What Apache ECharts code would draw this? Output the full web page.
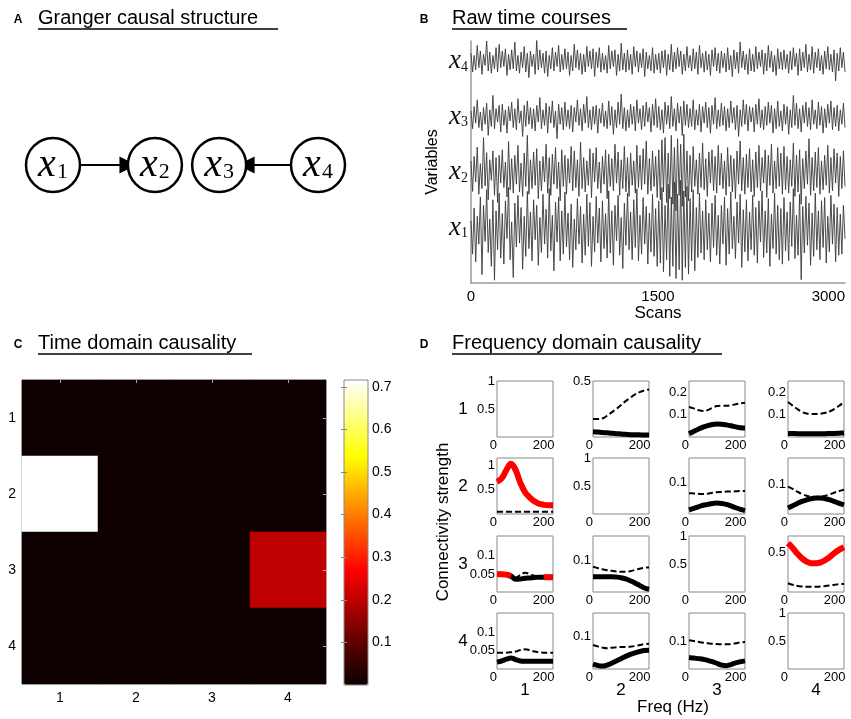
<!DOCTYPE html>
<html><head><meta charset="utf-8">
<script src="https://cdn.jsdelivr.net/npm/echarts@6/dist/echarts.min.js"></script>
<style>html,body{margin:0;padding:0;background:#fff}#c{width:851px;height:719px}</style>
</head><body><div id="c"></div>
<script>
// ---------------- DATA ----------------
// Panel A: causal graph
const graphNodes = ['1','2','3','4'];
const graphEdges = [[0,1],[3,2]];
// Panel B: raw time courses (deviations, one row = 20 samples)
const scanMax = 3000;
const scanTicks = [0,1500,3000];
const rawX1 = [12,-48,35,-62,20,-30,55,-85,40,-25,68,-45,15,-70,50,-95,30,-40,62,-55,
25,-66,48,-20,72,-58,10,-90,44,-35,58,-28,36,-75,20,-52,65,-38,28,-60,
50,-22,40,-68,18,-45,60,-30,33,-55,70,-42,22,-78,46,-26,55,-60,30,-48,
64,-35,26,-58,42,-72,15,-40,52,-30,38,-64,24,-50,60,-34,45,-70,20,-44,
56,-28,35,-62,48,-38,25,-55,66,-46,30,-68,40,-24,58,-50,18,-74,44,-32,
62,-40,28,-58,50,-36,70,-60,22,-48,54,-30,38,-66,26,-44,60,-52,34,-70,
48,-64,72,-80,40,-58,78,-88,55,-70,82,-92,60,-76,85,-95,66,-72,74,-84,
52,-60,68,-78,36,-54,62,-46,30,-58,50,-40,26,-62,44,-36,58,-50,22,-66,
40,-30,55,-68,34,-48,64,-38,20,-56,46,-28,60,-72,32,-44,50,-60,28,-40,
58,-50,36,-64,48,-26,66,-54,30,-46,52,-70,24,-38,62,-48,40,-58,34,-66,
54,-42,28,-60,46,-34,70,-56,22,-50,60,-94,38,-46,56,-32,44,-68,26,-52,
62,-40,30,-58,48,-36,54,-64,20,-44,58,-30,42,-62,36,-50,24,-48,40,-20];
const rawX2 = [20,-35,28,-18,45,-40,15,-30,62,-25,35,-50,22,-15,38,-42,26,-55,30,-20,
40,-28,18,-45,55,-32,24,-38,30,-22,48,-36,16,-44,34,-26,66,-40,22,-30,
36,-24,42,-48,20,-34,28,-18,50,-38,26,-42,32,-22,44,-30,18,-52,40,-26,
30,-40,24,-20,46,-34,38,-28,22,-44,54,-30,26,-36,20,-24,42,-46,34,-18,
44,-30,18,-38,28,-22,40,-48,32,-26,24,-34,50,-20,36,-42,22,-30,46,-36,
26,-44,34,-24,20,-38,48,-28,30,-32,42,-22,56,-40,24,-34,38,-26,28,-46,
40,-50,58,-36,62,-55,34,-48,66,-58,44,-70,60,-42,50,-62,68,-45,38,-52,
30,-36,46,-26,22,-40,34,-28,52,-32,24,-44,36,-20,40,-34,28,-38,48,-24,
34,-30,20,-42,44,-26,30,-36,24,-48,38,-22,56,-34,26,-40,32,-28,42,-36,
22,-44,36,-28,48,-34,26,-20,40,-46,30,-24,50,-38,20,-30,44,-26,34,-40,
46,-32,28,-38,22,-26,52,-44,30,-36,40,-58,24,-30,38,-22,60,-42,26,-34,
36,-28,44,-40,20,-32,30,-24,48,-38,26,-34,42,-20,34,-44,28,-30,38,-26];
const rawX3 = [10,-22,18,-12,30,-20,8,-26,16,-14,24,-34,12,-18,38,-22,14,-10,20,-28,
22,-16,12,-30,18,-8,26,-20,14,-24,32,-12,10,-36,20,-18,28,-14,16,-22,
14,-26,20,-10,34,-22,12,-16,24,-30,18,-12,28,-20,10,-40,22,-14,16,-24,
26,-18,12,-22,20,-28,16,-10,30,-16,14,-26,22,-12,36,-20,12,-24,18,-14,
20,-30,14,-12,24,-18,10,-22,28,-16,18,-32,12,-20,26,-14,40,-22,16,-26,
12,-20,22,-14,18,-26,30,-12,14,-24,20,-18,26,-10,16,-28,22,-16,32,-20,
18,-24,12,-30,26,-14,20,-22,36,-18,14,-26,24,-12,18,-34,28,-16,22,-20,
14,-18,30,-24,12,-16,22,-28,18,-12,26,-20,16,-30,20,-14,34,-22,12,-18,
24,-16,18,-26,14,-20,28,-12,16,-24,20,-36,12,-18,30,-14,22,-26,18,-10,
16,-28,22,-14,32,-20,12,-24,18,-16,26,-12,20,-30,14,-22,28,-18,10,-26,
22,-14,18,-32,12,-20,38,-16,24,-22,14,-28,20,-12,26,-18,16,-24,30,-14,
12,-22,26,-16,18,-30,14,-20,22,-12,28,-24,16,-18,20,-26,12,-14,24,-20];
const rawX4 = [14,-20,10,-16,28,-12,18,-24,12,-8,36,-18,16,-22,10,-14,24,-20,30,-12,
18,-10,22,-26,12,-16,20,-14,34,-18,10,-22,16,-12,26,-20,14,-30,18,-10,
12,-24,38,-16,20,-12,14,-22,18,-28,10,-14,24,-18,16,-10,28,-20,12,-16,
22,-14,16,-26,10,-18,30,-12,20,-16,14,-24,12,-20,26,-10,18,-14,22,-28,
16,-12,24,-20,14,-16,10,-22,28,-14,18,-10,20,-26,12,-18,32,-16,14,-20,
20,-16,12,-24,26,-10,18,-20,14,-12,22,-28,16,-14,10,-18,24,-22,12,-16,
14,-22,18,-12,20,-26,12,-16,30,-20,16,-14,24,-10,18,-24,12,-18,26,-12,
10,-18,22,-14,16,-24,28,-12,14,-20,18,-16,12,-26,20,-10,24,-18,14,-22,
18,-12,14,-20,24,-16,10,-28,20,-14,16,-22,34,-12,18,-16,12,-24,22,-18,
12,-20,26,-14,16,-10,20,-24,14,-18,28,-12,18,-20,10,-26,22,-14,16,-16,
20,-14,12,-22,18,-16,24,-10,14,-26,22,-18,16,-12,30,-20,12,-16,26,-22,
16,-12,22,-18,10,-24,18,-14,26,-16,12,-20,20,-36,14,-18,24,-12,16,-20];
// Panel C: time-domain causality matrix (rows = target, cols = source)
const tdcLabels = ['1','2','3','4'];
const tdcMatrix = [
  [0.004,0.004,0.004,0.004],
  [0.716,0.004,0.004,0.004],
  [0.004,0.004,0.004,0.200],
  [0.004,0.004,0.004,0.004]
];
const cbMin = 0, cbMax = 0.716;
const cbTicks = [0.1,0.2,0.3,0.4,0.5,0.6,0.7];
// Panel D: frequency-domain causality
const freqHz = [0,20,40,60,80,100,120,140,160,180,200,220,240];
const freqTicks = [0,200];
const dash12 = [0.16,0.16,0.165,0.19,0.22,0.25,0.285,0.32,0.35,0.38,0.40,0.415,0.425];
const solid12 = [0.047,0.044,0.04,0.037,0.033,0.03,0.027,0.024,0.021,0.02,0.019,0.018,0.018];
const dash13 = [0.134,0.128,0.12,0.116,0.12,0.13,0.138,0.14,0.14,0.142,0.146,0.15,0.153];
const solid13 = [0.015,0.025,0.035,0.044,0.051,0.056,0.058,0.057,0.054,0.05,0.045,0.041,0.04];
const dash14 = [0.156,0.14,0.125,0.112,0.105,0.103,0.103,0.104,0.108,0.115,0.126,0.14,0.156];
const solid14 = [0.016,0.016,0.015,0.015,0.015,0.015,0.015,0.015,0.015,0.016,0.016,0.017,0.018];
const dash21 = [0.048,0.047,0.047,0.047,0.047,0.046,0.046,0.046,0.046,0.046,0.046,0.046,0.046];
const red21 = [0.66,0.73,0.9,1.03,0.9,0.64,0.45,0.34,0.26,0.21,0.19,0.18,0.18];
const dash23 = [0.067,0.066,0.065,0.064,0.065,0.068,0.07,0.071,0.072,0.072,0.073,0.074,0.074];
const solid23 = [0.013,0.018,0.023,0.028,0.031,0.034,0.035,0.034,0.031,0.026,0.02,0.015,0.011];
const dash24 = [0.093,0.085,0.076,0.068,0.062,0.059,0.058,0.059,0.062,0.067,0.073,0.078,0.082];
const solid24 = [0.02,0.028,0.036,0.043,0.048,0.052,0.054,0.054,0.052,0.048,0.042,0.036,0.031];
const dash31 = [0.048,0.048,0.047,0.043,0.04,0.047,0.053,0.05,0.045,0.043,0.043,0.043,0.043];
const solid31 = [0.049,0.049,0.048,0.044,0.035,0.036,0.038,0.039,0.04,0.041,0.041,0.041,0.041];
const red31 = [0.049,0.049,0.048,0.044,null,null,null,null,null,null,0.041,0.041,0.041];
const dash32 = [0.081,0.077,0.073,0.07,0.068,0.066,0.065,0.065,0.067,0.071,0.075,0.078,0.079];
const solid32 = [0.049,0.049,0.049,0.049,0.049,0.048,0.046,0.042,0.036,0.029,0.021,0.013,0.009];
const dash34 = [0.11,0.09,0.075,0.068,0.066,0.066,0.067,0.07,0.075,0.082,0.09,0.097,0.1];
const red34 = [0.61,0.55,0.48,0.42,0.38,0.36,0.36,0.37,0.4,0.44,0.49,0.53,0.56];
const dash41 = [0.045,0.045,0.045,0.046,0.048,0.052,0.054,0.052,0.048,0.046,0.045,0.045,0.045];
const solid41 = [0.019,0.022,0.027,0.03,0.026,0.022,0.021,0.021,0.021,0.021,0.021,0.021,0.021];
const dash42 = [0.074,0.07,0.066,0.064,0.066,0.067,0.068,0.068,0.069,0.071,0.074,0.077,0.078];
const solid42 = [0.015,0.011,0.009,0.012,0.018,0.025,0.032,0.039,0.045,0.05,0.054,0.057,0.058];
const dash43 = [0.103,0.1,0.097,0.094,0.092,0.09,0.089,0.088,0.088,0.089,0.092,0.095,0.096];
const solid43 = [0.041,0.039,0.037,0.035,0.031,0.026,0.02,0.014,0.012,0.016,0.022,0.026,0.029];
const fdcYMax = [[1,0.5,0.25,0.25],[1.15,1,0.18,0.19],[0.155,0.18,1,0.7],[0.154,0.173,0.2,1]];
const fdcYTicks = [
  [[0.5,1],[0.5],[0.1,0.2],[0.1,0.2]],
  [[0.5,1],[0.5,1],[0.1],[0.1]],
  [[0.05,0.1],[0.1],[0.5,1],[0.5]],
  [[0.05,0.1],[0.1],[0.1],[0.5,1]]
];
const fdcCurves = {
  '0,1':{dash:dash12,solid:solid12}, '0,2':{dash:dash13,solid:solid13}, '0,3':{dash:dash14,solid:solid14},
  '1,0':{dash:dash21,red:red21}, '1,2':{dash:dash23,solid:solid23}, '1,3':{dash:dash24,solid:solid24},
  '2,0':{dash:dash31,solid:solid31,red:red31}, '2,1':{dash:dash32,solid:solid32}, '2,3':{dash:dash34,red:red34},
  '3,0':{dash:dash41,solid:solid41}, '3,1':{dash:dash42,solid:solid42}, '3,2':{dash:dash43,solid:solid43}
};

// ---------------- LAYOUT / STYLE ----------------
const FONT = 'Liberation Sans';
const SERIF = 'Liberation Serif';
const nodeLayoutX = [0, 1, 1.63, 2.6];
const traceCenters = [100, 200, 300, 400];
const hotColors = ['#0b0000','#550000','#aa0000','#ff0000','#ff5500','#ffaa00','#ffff00','#ffff80','#ffffff'];
const dColLeft = [497, 593, 689, 788];
const dRowTop = [381, 458, 536, 613];
const dSize = 56;

const grids = [], xAxes = [], yAxes = [], series = [], graphics = [];
function addGrid(g){ grids.push(g); return grids.length - 1; }
function addX(a){ xAxes.push(a); return xAxes.length - 1; }
function addY(a){ yAxes.push(a); return yAxes.length - 1; }
const noLine = {show:false}, noTick = {show:false}, noSplit = {show:false};

// ---- Panel A
const gA = addGrid({left:53, top:140, width:265, height:50});
const xA = addX({gridIndex:gA, type:'value', min:0, max:2.6, show:false});
const yA = addY({gridIndex:gA, type:'value', min:-1, max:1, show:false});
series.push({
  type:'graph', coordinateSystem:'cartesian2d', xAxisIndex:xA, yAxisIndex:yA,
  symbol:'circle', symbolSize:54, silent:true,
  itemStyle:{color:'#fff', borderColor:'#000', borderWidth:2.5},
  label:{show:true, position:'inside', formatter:p => '{x|x}{s|' + p.name + '}',
    rich:{x:{fontFamily:SERIF, fontStyle:'italic', fontSize:40, color:'#000'},
          s:{fontFamily:SERIF, fontSize:22, color:'#000', padding:[14,0,0,1]}}},
  edgeSymbol:['none','triangle'], edgeSymbolSize:[0,17],
  lineStyle:{color:'#000', width:2, opacity:1, curveness:0},
  data: graphNodes.map((n,i) => ({name:n, value:[nodeLayoutX[i], 0]})),
  links: graphEdges.map(e => ({source:e[0], target:e[1]})),
  emphasis:{disabled:true}
});

// ---- Panel B
const gB = addGrid({left:471, top:41, width:374, height:242});
const xB = addX({gridIndex:gB, type:'value', min:0, max:scanMax,
  axisLine:{lineStyle:{color:'#999', width:1.5}}, axisTick:noTick, splitLine:noSplit,
  axisLabel:{customValues:scanTicks, formatter:v => String(v), fontSize:15, color:'#000', fontFamily:FONT, margin:6, alignMaxLabel:'right'},
  name:'Scans', nameLocation:'middle', nameGap:22, nameTextStyle:{fontSize:17, fontFamily:FONT, color:'#000'}});
const yB = addY({gridIndex:gB, type:'value', min:0, max:436,
  axisLine:{lineStyle:{color:'#999', width:1.5}}, axisTick:noTick, splitLine:noSplit,
  axisLabel:{customValues:traceCenters, margin:3,
    formatter:v => '{x|x}{s|' + (traceCenters.indexOf(v) + 1) + '}',
    rich:{x:{fontFamily:SERIF, fontStyle:'italic', fontSize:27, color:'#111'},
          s:{fontFamily:SERIF, fontSize:14, color:'#111', padding:[12,0,0,0]}}},
  name:'Variables', nameLocation:'middle', nameRotate:90, nameGap:30,
  nameTextStyle:{fontSize:16, fontFamily:FONT, color:'#000'}});
[rawX1, rawX2, rawX3, rawX4].forEach((arr, k) => {
  series.push({type:'line', xAxisIndex:xB, yAxisIndex:yB, symbol:'none', showSymbol:false,
    sampling:null, silent:true, lineStyle:{color:'#3a3a3a', width:0.9},
    data: arr.map((v, i) => [i * scanMax / (arr.length - 1), traceCenters[k] + v])});
});

// ---- Panel C
const gC = addGrid({left:22, top:380, width:304, height:304, show:true, borderColor:'#9a9a9a', borderWidth:1, backgroundColor:'transparent'});
const catAxisLabel = {fontSize:14, color:'#000', fontFamily:FONT};
const xC = addX({gridIndex:gC, type:'category', data:tdcLabels, position:'bottom',
  axisLine:noLine, axisTick:{show:false}, splitLine:noSplit, axisLabel:Object.assign({margin:7}, catAxisLabel)});
addX({gridIndex:gC, type:'category', data:tdcLabels, position:'top', z:10,
  axisLine:noLine, axisTick:{show:true, inside:true, alignWithLabel:true, length:3, lineStyle:{color:'#aaa'}}, axisLabel:{show:false}, splitLine:noSplit});
const yC = addY({gridIndex:gC, type:'category', data:tdcLabels, inverse:true, position:'left',
  axisLine:noLine, axisTick:{show:false}, splitLine:noSplit, axisLabel:Object.assign({margin:6}, catAxisLabel)});
addY({gridIndex:gC, type:'category', data:tdcLabels, inverse:true, position:'right', z:10,
  axisLine:noLine, axisTick:{show:true, inside:true, alignWithLabel:true, length:3, lineStyle:{color:'#aaa'}}, axisLabel:{show:false}, splitLine:noSplit});
const heatData = [];
tdcMatrix.forEach((row, r) => row.forEach((v, c) => heatData.push([c, r, v])));
const heatIndex = series.length;
series.push({type:'heatmap', xAxisIndex:xC, yAxisIndex:yC, data:heatData, silent:true,
  itemStyle:{borderWidth:0}, emphasis:{disabled:true}});

// Colorbar frame + ticks
const gCB = addGrid({left:344, top:380, width:24, height:305, show:true, z:10, borderColor:'#8a8a8a', borderWidth:1, backgroundColor:'transparent'});
addX({gridIndex:gCB, type:'value', show:false, min:0, max:1});
addY({gridIndex:gCB, type:'value', min:cbMin, max:cbMax, position:'right', z:10,
  axisLine:noLine, splitLine:noSplit,
  axisTick:{show:true, inside:true, length:3, customValues:cbTicks, lineStyle:{color:'#888'}},
  axisLabel:{customValues:cbTicks, fontSize:14, color:'#000', fontFamily:FONT, margin:4}});
addY({gridIndex:gCB, type:'value', min:cbMin, max:cbMax, position:'left', z:10,
  axisLine:noLine, splitLine:noSplit, axisLabel:{show:false},
  axisTick:{show:true, inside:true, length:3, customValues:cbTicks, lineStyle:{color:'#888'}}});

// ---- Panel D
for (let r = 0; r < 4; r++) {
  for (let c = 0; c < 4; c++) {
    const g = addGrid({left:dColLeft[c], top:dRowTop[r], width:dSize, height:dSize, show:true,
      borderColor:'#888', borderWidth:1, backgroundColor:'transparent'});
    const xa = addX({gridIndex:g, type:'value', min:0, max:240, axisLine:noLine, axisTick:noTick, splitLine:noSplit,
      axisLabel:{customValues:freqTicks, fontSize:13, color:'#000', fontFamily:FONT, margin:2, alignMinLabel:'right'}});
    const ya = addY({gridIndex:g, type:'value', min:0, max:fdcYMax[r][c], axisLine:noLine, axisTick:noTick, splitLine:noSplit,
      axisLabel:{customValues:fdcYTicks[r][c], fontSize:13, color:'#000', fontFamily:FONT, margin:2}});
    const cv = fdcCurves[r + ',' + c];
    if (!cv) continue;
    const mk = arr => freqHz.map((f, i) => [f, arr[i] === null ? '-' : arr[i]]);
    if (cv.solid) series.push({type:'line', xAxisIndex:xa, yAxisIndex:ya, symbol:'none', smooth:0.4, silent:true,
      lineStyle:{color:'#000', width:5}, data:mk(cv.solid)});
    series.push({type:'line', xAxisIndex:xa, yAxisIndex:ya, symbol:'none', smooth:0.4, silent:true,
      lineStyle:{color:'#000', width:2, type:[6,3]}, data:mk(cv.dash)});
    if (cv.red) series.push({type:'line', xAxisIndex:xa, yAxisIndex:ya, symbol:'none', smooth:0.4, silent:true,
      lineStyle:{color:'#ff0000', width:6}, data:mk(cv.red)});
  }
}
// row / column labels for D
for (let i = 0; i < 4; i++) {
  graphics.push({type:'text', x:463, y:dRowTop[i] + dSize/2, style:{text:String(i+1), fill:'#000', font:'17px "' + FONT + '"', align:'center', verticalAlign:'middle'}});
  graphics.push({type:'text', x:dColLeft[i] + dSize/2, y:690, style:{text:String(i+1), fill:'#000', font:'17px "' + FONT + '"', align:'center', verticalAlign:'middle'}});
}
graphics.push({type:'text', x:673, y:707, style:{text:'Freq (Hz)', fill:'#000', font:'17px "' + FONT + '"', align:'center', verticalAlign:'middle'}});
graphics.push({type:'text', x:443, y:522, rotation:Math.PI/2, style:{text:'Connectivity strength', fill:'#000', font:'17px "' + FONT + '"', align:'center', verticalAlign:'middle'}});

// ---- Titles
const titleDefs = [
  {letter:'A', lx:18, text:'Granger causal structure', tx:38, y:18, ux2:278, uy:29},
  {letter:'B', lx:424, text:'Raw time courses', tx:452, y:18, ux2:627, uy:29},
  {letter:'C', lx:18, text:'Time domain causality', tx:38, y:343, ux2:252, uy:354},
  {letter:'D', lx:424, text:'Frequency domain causality', tx:452, y:343, ux2:722, uy:354}
];
titleDefs.forEach(t => {
  graphics.push({type:'text', x:t.lx, y:t.y + 2, style:{text:t.letter, fill:'#000', font:'bold 12px "' + FONT + '"', align:'center', verticalAlign:'middle'}});
  graphics.push({type:'text', x:t.tx, y:t.y, style:{text:t.text, fill:'#000', font:'20px "' + FONT + '"', align:'left', verticalAlign:'middle'}});
  graphics.push({type:'line', shape:{x1:t.tx, y1:t.uy, x2:t.ux2, y2:t.uy}, style:{stroke:'#000', lineWidth:1.5}});
});

const chart = echarts.init(document.getElementById('c'), null, {renderer:'canvas', width:851, height:719});
chart.setOption({
  animation:false,
  backgroundColor:'#fff',
  textStyle:{fontFamily:FONT},
  grid:grids, xAxis:xAxes, yAxis:yAxes, series:series,
  visualMap:[{type:'continuous', seriesIndex:heatIndex, min:cbMin, max:cbMax, calculable:false,
    orient:'vertical', left:344, top:380, itemWidth:24, itemHeight:305, padding:0, hoverLink:false,
    inRange:{color:hotColors}, textStyle:{color:'#000'}}],
  graphic:graphics
});
</script></body></html>
